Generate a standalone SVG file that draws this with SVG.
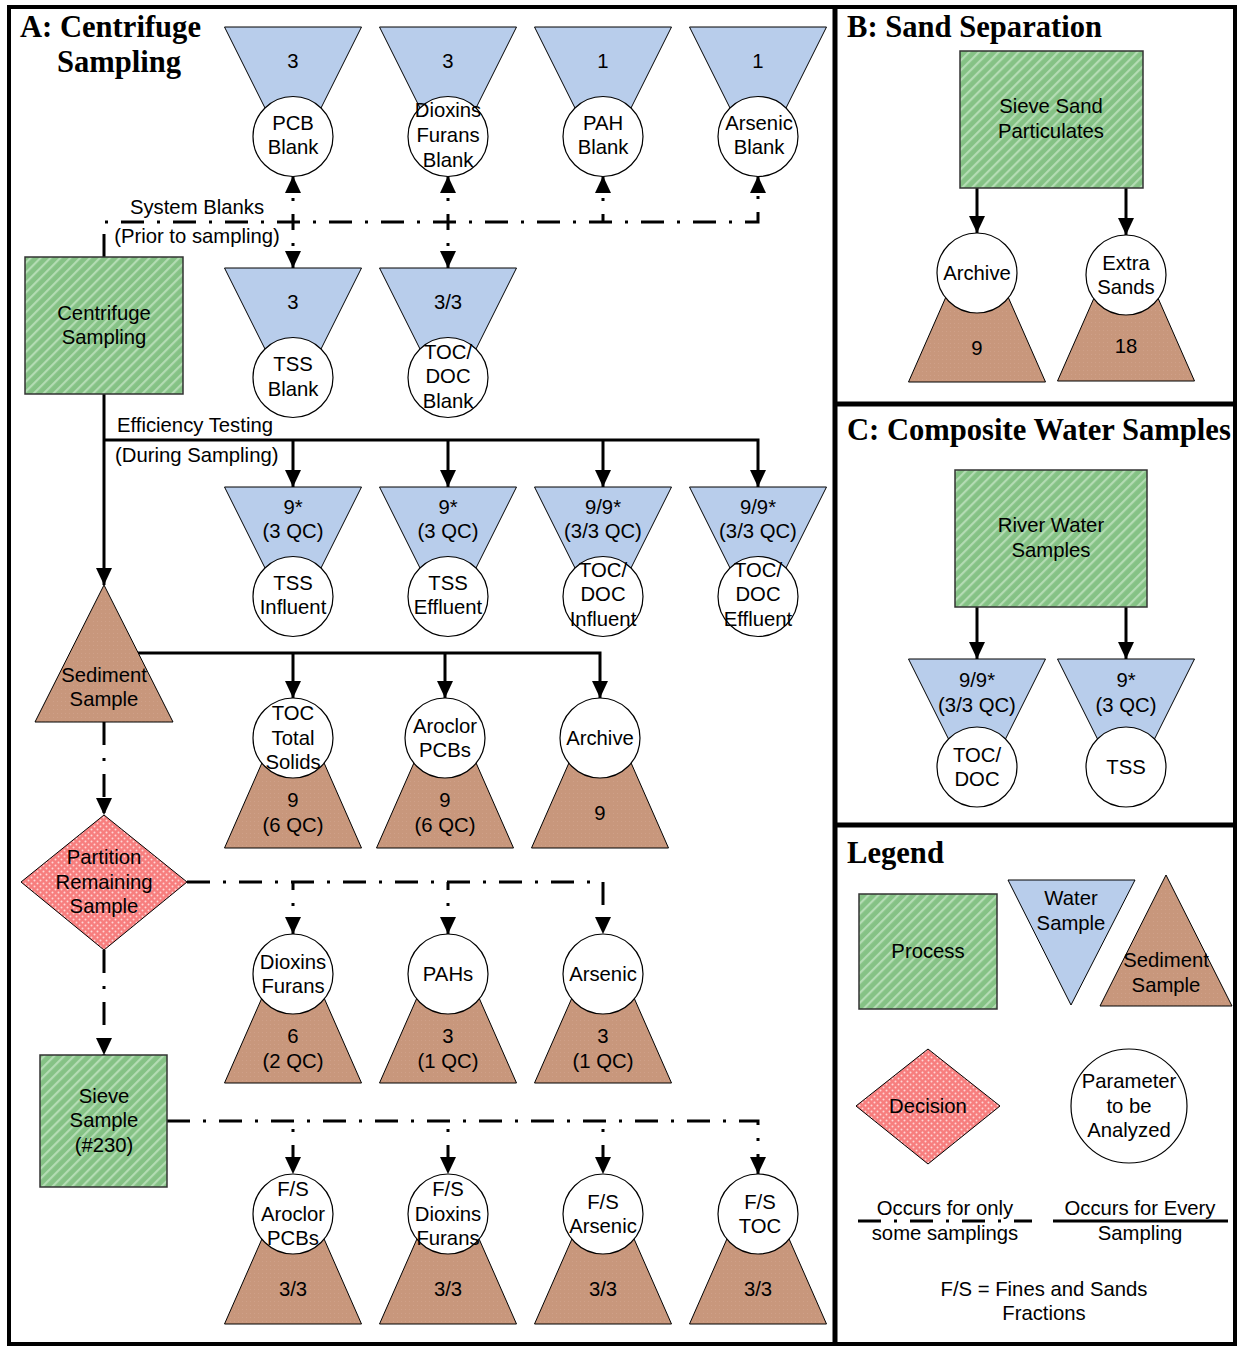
<svg xmlns="http://www.w3.org/2000/svg" xmlns:xlink="http://www.w3.org/1999/xlink" width="1238" height="1347" viewBox="0 0 1238 1347">
<style>
.t{font-family:"Liberation Sans",Arial,sans-serif;font-size:20.3px;text-anchor:middle;fill:#000}
.ts{font-family:"Liberation Sans",Arial,sans-serif;font-size:20.3px;fill:#000}
.title{font-family:"Liberation Serif","Times New Roman",serif;font-size:30.6px;font-weight:bold;fill:#000}
.water{fill:#B8CDEB;stroke:#000;stroke-width:1}
.sed{fill:url(#sedPat);stroke:#000;stroke-width:1}
.proc{fill:url(#hatch);stroke:#333;stroke-width:1.5}
.dec{fill:url(#dots);stroke:#000;stroke-width:1}
.circ{fill:#fff;stroke:#000;stroke-width:1.2}
.solid{fill:none;stroke:#000;stroke-width:3}
.dd{fill:none;stroke:#000;stroke-width:3;stroke-dasharray:23 13 3 13}
.br{fill:none;stroke:#000;stroke-width:3;stroke-dasharray:23 13 3 13;stroke-dashoffset:15}
.br2{fill:none;stroke:#000;stroke-width:3;stroke-dasharray:23 13 3 13;stroke-dashoffset:28}
.frame{fill:none;stroke:#000;stroke-width:4}
</style>
<defs>
<pattern id="hatch" patternUnits="userSpaceOnUse" width="7" height="7" patternTransform="rotate(45)">
<rect width="7" height="7" fill="#85C285"/>
<rect x="0" y="0" width="2.2" height="7" fill="#B4DCB4"/>
</pattern>
<pattern id="dots" patternUnits="userSpaceOnUse" width="6" height="6">
<rect width="6" height="6" fill="#F77E7E"/>
<circle cx="1.5" cy="1.5" r="1" fill="#FFD6D6"/>
<circle cx="4.5" cy="4.5" r="1" fill="#FFD6D6"/>
</pattern>
<pattern id="sedPat" patternUnits="userSpaceOnUse" width="4" height="4">
<rect width="4" height="4" fill="#C8977C"/>
<rect x="1" y="1" width="1" height="1" fill="#CFA088"/>
</pattern>
<marker id="ah" markerWidth="17" markerHeight="16" refX="17" refY="8" orient="auto" markerUnits="userSpaceOnUse">
<path d="M0,0 L17,8 L0,16 z" fill="#000"/>
</marker>
<polygon id="funnel" class="water" points="-68.5,0 68.5,0 17,103 -17,103"/>
<polygon id="trap" class="sed" points="-68.5,0 68.5,0 24.5,-100 -24.5,-100"/>
<circle id="pc" class="circ" r="40"/>
</defs>

<rect width="1238" height="1347" fill="#fff"/>

<!-- frames -->
<g id="frames">
<rect class="frame" x="9" y="7" width="1226" height="1337"/>
<line x1="835" y1="7" x2="835" y2="1344" stroke="#000" stroke-width="5"/>
<line x1="835" y1="404" x2="1235" y2="404" stroke="#000" stroke-width="5"/>
<line x1="835" y1="825" x2="1235" y2="825" stroke="#000" stroke-width="5"/>
</g>

<!-- titles -->
<g id="titles">
<text class="title" x="20" y="37">A: Centrifuge</text>
<text class="title" x="57" y="72">Sampling</text>
<text class="title" x="847" y="37">B: Sand Separation</text>
<text class="title" x="847" y="440">C: Composite Water Samples</text>
<text class="title" x="847" y="863">Legend</text>
</g>

<!-- connectors -->
<g id="connectors">
<!-- system blanks -->
<path class="dd" d="M104,257 V222 H758 V176" marker-end="url(#ah)"/>
<path class="br" d="M293,222 V176" marker-end="url(#ah)"/>
<path class="br" d="M293,222 V268" marker-end="url(#ah)"/>
<path class="br" d="M448,222 V176" marker-end="url(#ah)"/>
<path class="br" d="M448,222 V268" marker-end="url(#ah)"/>
<path class="br" d="M603,222 V176" marker-end="url(#ah)"/>
<!-- efficiency testing -->
<path class="solid" d="M104,394 V585" marker-end="url(#ah)"/>
<path class="solid" d="M104,440 H758 V487" marker-end="url(#ah)"/>
<path class="solid" d="M293,440 V487" marker-end="url(#ah)"/>
<path class="solid" d="M448,440 V487" marker-end="url(#ah)"/>
<path class="solid" d="M603,440 V487" marker-end="url(#ah)"/>
<!-- sediment -->
<path class="solid" d="M138,653 H600 V698" marker-end="url(#ah)"/>
<path class="solid" d="M293,653 V698" marker-end="url(#ah)"/>
<path class="solid" d="M445,653 V698" marker-end="url(#ah)"/>
<path class="dd" d="M104,722 V815" marker-end="url(#ah)"/>
<!-- partition -->
<path class="dd" d="M187,882 H603 V934" marker-end="url(#ah)"/>
<path class="br" d="M293,882 V934" marker-end="url(#ah)"/>
<path class="br" d="M448,882 V934" marker-end="url(#ah)"/>
<path class="dd" d="M104,950 V1055" marker-end="url(#ah)"/>
<!-- sieve -->
<path class="dd" d="M167,1121 H758 V1174" marker-end="url(#ah)"/>
<path class="br2" d="M293,1121 V1174" marker-end="url(#ah)"/>
<path class="br2" d="M448,1121 V1174" marker-end="url(#ah)"/>
<path class="br2" d="M603,1121 V1174" marker-end="url(#ah)"/>
<!-- panel B -->
<path class="solid" d="M977,188 V233" marker-end="url(#ah)"/>
<path class="solid" d="M1126,188 V235" marker-end="url(#ah)"/>
<!-- panel C -->
<path class="solid" d="M977,607 V659" marker-end="url(#ah)"/>
<path class="solid" d="M1126,607 V659" marker-end="url(#ah)"/>
</g>

<!-- connector labels -->
<g id="labels">
<text class="t" x="197" y="214">System Blanks</text>
<text class="t" x="197" y="243">(Prior to sampling)</text>
<text class="ts" x="117" y="432">Efficiency Testing</text>
<text class="ts" x="115" y="462">(During Sampling)</text>
</g>

<!-- Panel A process nodes -->
<g id="centrifuge">
<rect class="proc" x="25" y="257" width="158" height="137"/>
<text class="t" x="104" y="320">Centrifuge</text>
<text class="t" x="104" y="344">Sampling</text>
</g>
<g id="sediment-sample">
<polygon class="sed" points="104,585 173,722 35,722"/>
<text class="t" x="104" y="682">Sediment</text>
<text class="t" x="104" y="706">Sample</text>
</g>
<g id="partition">
<polygon class="dec" points="104,815 187,882 104,950 21,882"/>
<text class="t" x="104" y="864">Partition</text>
<text class="t" x="104" y="889">Remaining</text>
<text class="t" x="104" y="913">Sample</text>
</g>
<g id="sieve">
<rect class="proc" x="40" y="1055" width="127" height="132"/>
<text class="t" x="104" y="1103">Sieve</text>
<text class="t" x="104" y="1127">Sample</text>
<text class="t" x="104" y="1152">(#230)</text>
</g>

<!-- Row 1: system blanks -->
<g id="pcb-blank">
<use xlink:href="#funnel" x="293" y="27"/><use xlink:href="#pc" x="293" y="136.5"/>
<text class="t" x="293" y="68">3</text>
<text class="t" x="293" y="130">PCB</text><text class="t" x="293" y="154">Blank</text>
</g>
<g id="dioxins-blank">
<use xlink:href="#funnel" x="448" y="27"/><use xlink:href="#pc" x="448" y="136.5"/>
<text class="t" x="448" y="68">3</text>
<text class="t" x="448" y="117">Dioxins</text><text class="t" x="448" y="142">Furans</text><text class="t" x="448" y="167">Blank</text>
</g>
<g id="pah-blank">
<use xlink:href="#funnel" x="603" y="27"/><use xlink:href="#pc" x="603" y="136.5"/>
<text class="t" x="603" y="68">1</text>
<text class="t" x="603" y="130">PAH</text><text class="t" x="603" y="154">Blank</text>
</g>
<g id="arsenic-blank">
<use xlink:href="#funnel" x="758" y="27"/><use xlink:href="#pc" x="758" y="136.5"/>
<text class="t" x="758" y="68">1</text>
<text class="t" x="759" y="130">Arsenic</text><text class="t" x="759" y="154">Blank</text>
</g>

<!-- Row 2 -->
<g id="tss-blank">
<use xlink:href="#funnel" x="293" y="268"/><use xlink:href="#pc" x="293" y="377.5"/>
<text class="t" x="293" y="309">3</text>
<text class="t" x="293" y="371">TSS</text><text class="t" x="293" y="396">Blank</text>
</g>
<g id="tocdoc-blank">
<use xlink:href="#funnel" x="448" y="268"/><use xlink:href="#pc" x="448" y="377.5"/>
<text class="t" x="448" y="309">3/3</text>
<text class="t" x="448" y="359">TOC/</text><text class="t" x="448" y="383">DOC</text><text class="t" x="448" y="408">Blank</text>
</g>

<!-- Row 3: efficiency -->
<g id="tss-influent">
<use xlink:href="#funnel" x="293" y="487"/><use xlink:href="#pc" x="293" y="596.5"/>
<text class="t" x="293" y="514">9*</text><text class="t" x="293" y="538">(3 QC)</text>
<text class="t" x="293" y="590">TSS</text><text class="t" x="293" y="614">Influent</text>
</g>
<g id="tss-effluent">
<use xlink:href="#funnel" x="448" y="487"/><use xlink:href="#pc" x="448" y="596.5"/>
<text class="t" x="448" y="514">9*</text><text class="t" x="448" y="538">(3 QC)</text>
<text class="t" x="448" y="590">TSS</text><text class="t" x="448" y="614">Effluent</text>
</g>
<g id="tocdoc-influent">
<use xlink:href="#funnel" x="603" y="487"/><use xlink:href="#pc" x="603" y="596.5"/>
<text class="t" x="603" y="514">9/9*</text><text class="t" x="603" y="538">(3/3 QC)</text>
<text class="t" x="603" y="577">TOC/</text><text class="t" x="603" y="601">DOC</text><text class="t" x="603" y="626">Influent</text>
</g>
<g id="tocdoc-effluent">
<use xlink:href="#funnel" x="758" y="487"/><use xlink:href="#pc" x="758" y="596.5"/>
<text class="t" x="758" y="514">9/9*</text><text class="t" x="758" y="538">(3/3 QC)</text>
<text class="t" x="758" y="577">TOC/</text><text class="t" x="758" y="601">DOC</text><text class="t" x="758" y="626">Effluent</text>
</g>

<!-- Row 4: sediment analyses -->
<g id="toc-solids">
<use xlink:href="#trap" x="293" y="848"/><use xlink:href="#pc" x="293" y="738"/>
<text class="t" x="293" y="720">TOC</text><text class="t" x="293" y="745">Total</text><text class="t" x="293" y="769">Solids</text>
<text class="t" x="293" y="807">9</text><text class="t" x="293" y="832">(6 QC)</text>
</g>
<g id="aroclor">
<use xlink:href="#trap" x="445" y="848"/><use xlink:href="#pc" x="445" y="738"/>
<text class="t" x="445" y="733">Aroclor</text><text class="t" x="445" y="757">PCBs</text>
<text class="t" x="445" y="807">9</text><text class="t" x="445" y="832">(6 QC)</text>
</g>
<g id="archive-a">
<use xlink:href="#trap" x="600" y="848"/><use xlink:href="#pc" x="600" y="738"/>
<text class="t" x="600" y="745">Archive</text>
<text class="t" x="600" y="820">9</text>
</g>

<!-- Row 5 -->
<g id="dioxins">
<use xlink:href="#trap" x="293" y="1083"/><use xlink:href="#pc" x="293" y="974"/>
<text class="t" x="293" y="969">Dioxins</text><text class="t" x="293" y="993">Furans</text>
<text class="t" x="293" y="1043">6</text><text class="t" x="293" y="1068">(2 QC)</text>
</g>
<g id="pahs">
<use xlink:href="#trap" x="448" y="1083"/><use xlink:href="#pc" x="448" y="974"/>
<text class="t" x="448" y="981">PAHs</text>
<text class="t" x="448" y="1043">3</text><text class="t" x="448" y="1068">(1 QC)</text>
</g>
<g id="arsenic">
<use xlink:href="#trap" x="603" y="1083"/><use xlink:href="#pc" x="603" y="974"/>
<text class="t" x="603" y="981">Arsenic</text>
<text class="t" x="603" y="1043">3</text><text class="t" x="603" y="1068">(1 QC)</text>
</g>

<!-- Row 6 -->
<g id="fs-aroclor">
<use xlink:href="#trap" x="293" y="1324"/><use xlink:href="#pc" x="293" y="1214"/>
<text class="t" x="293" y="1196">F/S</text><text class="t" x="293" y="1221">Aroclor</text><text class="t" x="293" y="1245">PCBs</text>
<text class="t" x="293" y="1296">3/3</text>
</g>
<g id="fs-dioxins">
<use xlink:href="#trap" x="448" y="1324"/><use xlink:href="#pc" x="448" y="1214"/>
<text class="t" x="448" y="1196">F/S</text><text class="t" x="448" y="1221">Dioxins</text><text class="t" x="448" y="1245">Furans</text>
<text class="t" x="448" y="1296">3/3</text>
</g>
<g id="fs-arsenic">
<use xlink:href="#trap" x="603" y="1324"/><use xlink:href="#pc" x="603" y="1214"/>
<text class="t" x="603" y="1209">F/S</text><text class="t" x="603" y="1233">Arsenic</text>
<text class="t" x="603" y="1296">3/3</text>
</g>
<g id="fs-toc">
<use xlink:href="#trap" x="758" y="1324"/><use xlink:href="#pc" x="758" y="1214"/>
<text class="t" x="760" y="1209">F/S</text><text class="t" x="760" y="1233">TOC</text>
<text class="t" x="758" y="1296">3/3</text>
</g>

<!-- Panel B -->
<g id="sieve-sand">
<rect class="proc" x="960" y="51" width="183" height="137"/>
<text class="t" x="1051" y="113">Sieve Sand</text>
<text class="t" x="1051" y="138">Particulates</text>
</g>
<g id="archive-b">
<use xlink:href="#trap" x="977" y="382"/><use xlink:href="#pc" x="977" y="273"/>
<text class="t" x="977" y="280">Archive</text>
<text class="t" x="977" y="355">9</text>
</g>
<g id="extra-sands">
<use xlink:href="#trap" x="1126" y="381"/><use xlink:href="#pc" x="1126" y="275"/>
<text class="t" x="1126" y="270">Extra</text><text class="t" x="1126" y="294">Sands</text>
<text class="t" x="1126" y="353">18</text>
</g>

<!-- Panel C -->
<g id="river-water">
<rect class="proc" x="955" y="470" width="192" height="137"/>
<text class="t" x="1051" y="532">River Water</text>
<text class="t" x="1051" y="557">Samples</text>
</g>
<g id="c-tocdoc">
<use xlink:href="#funnel" x="977" y="659"/><use xlink:href="#pc" x="977" y="767"/>
<text class="t" x="977" y="687">9/9*</text><text class="t" x="977" y="712">(3/3 QC)</text>
<text class="t" x="977" y="762">TOC/</text><text class="t" x="977" y="786">DOC</text>
</g>
<g id="c-tss">
<use xlink:href="#funnel" x="1126" y="659"/><use xlink:href="#pc" x="1126" y="767"/>
<text class="t" x="1126" y="687">9*</text><text class="t" x="1126" y="712">(3 QC)</text>
<text class="t" x="1126" y="774">TSS</text>
</g>

<!-- Legend -->
<g id="legend-process">
<rect class="proc" x="859" y="894" width="138" height="115"/>
<text class="t" x="928" y="958">Process</text>
</g>
<g id="legend-water">
<polygon class="water" points="1008,880 1135,880 1071,1005"/>
<text class="t" x="1071" y="905">Water</text><text class="t" x="1071" y="930">Sample</text>
</g>
<g id="legend-sediment">
<polygon class="sed" points="1166,875 1232,1006 1100,1006"/>
<text class="t" x="1166" y="967">Sediment</text><text class="t" x="1166" y="992">Sample</text>
</g>
<g id="legend-decision">
<polygon class="dec" points="928,1049 1000,1106 928,1164 856,1106"/>
<text class="t" x="928" y="1113">Decision</text>
</g>
<g id="legend-parameter">
<ellipse class="circ" cx="1129" cy="1106" rx="58" ry="57"/>
<text class="t" x="1129" y="1088">Parameter</text><text class="t" x="1129" y="1113">to be</text><text class="t" x="1129" y="1137">Analyzed</text>
</g>
<g id="legend-lines">
<line class="dd" x1="858" y1="1221" x2="1032" y2="1221"/>
<text class="t" x="945" y="1215">Occurs for only</text>
<text class="t" x="945" y="1240">some samplings</text>
<line class="solid" x1="1053" y1="1221" x2="1228" y2="1221"/>
<text class="t" x="1140" y="1215">Occurs for Every</text>
<text class="t" x="1140" y="1240">Sampling</text>
<text class="t" x="1044" y="1296">F/S = Fines and Sands</text>
<text class="t" x="1044" y="1320">Fractions</text>
</g>
</svg>
